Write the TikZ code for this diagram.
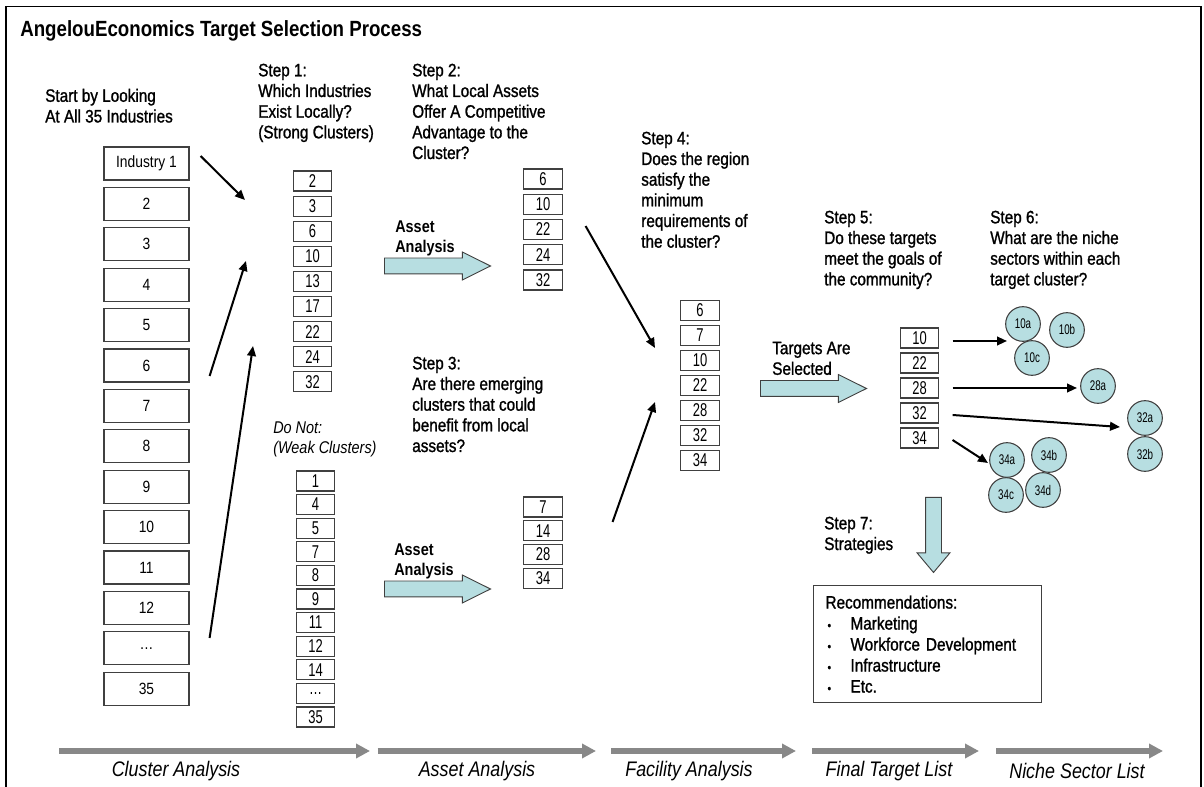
\documentclass[tikz,border=0pt]{standalone}
\usepackage{fontspec}
\setmainfont{Liberation Sans}[FakeStretch=0.85]
\newfontfamily\narrowfont{Liberation Sans}[FakeStretch=0.7]
\newfontfamily\stepfont{Liberation Sans}[FakeStretch=0.85, FakeBold=1.2]
\usepackage{xcolor}
\usepackage{tikz}
\usetikzlibrary{positioning, arrows.meta, shapes.geometric, shapes.arrows, calc}
\definecolor{aqua}{RGB}{183,222,225}
\definecolor{edgegray}{RGB}{64,64,64}
\definecolor{phasegray}{RGB}{136,136,136}
\newcommand{\recitem}[1]{\makebox[18.75pt][l]{\hspace{1.5pt}{\fontsize{9}{9}\selectfont\textbullet}}#1}

\begin{document}
\begin{tikzpicture}[
    x=0.75pt, y=-0.75pt,
    stepnote/.style={anchor=north west, inner sep=0pt, align=left, font=\stepfont\fontsize{13.5}{15.5}\selectfont},
    indbox/.style={rectangle, draw=edgegray, line width=0.9pt, minimum width=63.75pt, minimum height=24.75pt, inner sep=0pt, font=\fontsize{12.2}{14}\selectfont},
    numbox/.style={rectangle, draw=edgegray, line width=0.8pt, minimum width=29pt, minimum height=15pt, inner sep=0pt, font=\narrowfont\fontsize{13.9}{15}\selectfont},
    niche/.style={circle, draw=edgegray, line width=0.8pt, fill=aqua, minimum size=26pt, inner sep=0pt, font=\narrowfont\fontsize{10.5}{12}\selectfont},
    blockarrow/.style={single arrow, draw=edgegray, line width=0.7pt, fill=aqua, anchor=tail, inner xsep=0pt, inner ysep=5.625pt, single arrow head extend=4.5pt, single arrow tip angle=53, minimum height=79.5pt},
    arrow/.style={-{Triangle[length=7.5pt, width=6.5pt]}, line width=1.5pt},
    phase/.style={-{Triangle[length=10.5pt, width=10.5pt]}, line width=4.5pt, draw=phasegray},
    phaselabel/.style={inner sep=0pt, font=\itshape\fontsize{15.8}{18}\selectfont}
]
    \useasboundingbox (0,0) rectangle (1204,787);
    \draw[line width=1.1pt] (6,787) -- (6,6.5) -- (1201,6.5) -- (1201,787);

    \node[anchor=north west, inner sep=0pt, font=\bfseries\fontsize{16.5}{19}\selectfont] (title) at (20,20) {AngelouEconomics Target Selection Process};

    % step texts
    \node[stepnote] (start) at (45,88.5) {Start by Looking\\At All 35 Industries};
    \node[stepnote] (step1) at (258,63.5) {Step 1:\\Which Industries\\Exist Locally?\\(Strong Clusters)};
    \node[stepnote] (step2) at (412,63.5) {Step 2:\\What Local Assets\\Offer A Competitive\\Advantage to the\\Cluster?};
    \node[stepnote] (step3) at (412,356.5) {Step 3:\\Are there emerging\\clusters that could\\benefit from local\\assets?};
    \node[stepnote] (step4) at (641,131.5) {Step 4:\\Does the region\\satisfy the\\minimum\\requirements of\\the cluster?};
    \node[stepnote] (step5) at (824,210.5) {Step 5:\\Do these targets\\meet the goals of\\the community?};
    \node[stepnote] (step6) at (990,210.5) {Step 6:\\What are the niche\\sectors within each\\target cluster?};
    \node[stepnote] (step7) at (824,516.5) {Step 7:\\Strategies};
    \node[stepnote, font=\itshape\fontsize{12.75}{15}\selectfont] (weaknote) at (273,422) {Do Not:\\(Weak Clusters)};
    \node[stepnote] (selected) at (772,341.5) {Targets Are\\Selected};

    % industry columns
    \foreach \lbl [count=\i] in {Industry 1,2,3,4,5,6,7,8,9,10,11,12,…,35}
        \node[indbox] (ind\i) at (146.5,{163.5+40.4*(\i-1)}) {\lbl};
    \foreach \lbl [count=\i] in {2,3,6,10,13,17,22,24,32}
        \node[numbox] (strong\i) at (312.5,{181+25.1*(\i-1)}) {\lbl};
    \foreach \lbl [count=\i] in {1,4,5,7,8,9,11,12,14,…,35}
        \node[numbox] (weak\i) at (315.5,{481+23.6*(\i-1)}) {\lbl};
    \foreach \lbl [count=\i] in {6,10,22,24,32}
        \node[numbox] (asset\i) at (543,{179+25.25*(\i-1)}) {\lbl};
    \foreach \lbl [count=\i] in {7,14,28,34}
        \node[numbox] (emerge\i) at (543,{507+23.7*(\i-1)}) {\lbl};
    \foreach \lbl [count=\i] in {6,7,10,22,28,32,34}
        \node[numbox] (facility\i) at (700,{310.5+25*(\i-1)}) {\lbl};
    \foreach \lbl [count=\i] in {10,22,28,32,34}
        \node[numbox] (target\i) at (919.5,{338+25*(\i-1)}) {\lbl};

    % niche sectors
    \node[niche] (n10a) at (1023,324) {10a};
    \node[niche] (n10b) at (1067,330) {10b};
    \node[niche] (n10c) at (1032,358) {10c};
    \node[niche] (n28a) at (1098,386) {28a};
    \node[niche] (n32a) at (1145,418) {32a};
    \node[niche] (n32b) at (1145,454) {32b};
    \node[niche] (n34a) at (1007,460) {34a};
    \node[niche] (n34b) at (1049,455) {34b};
    \node[niche] (n34c) at (1006,495) {34c};
    \node[niche] (n34d) at (1043,490) {34d};

    % block arrows
    \node[blockarrow] (assetarrow1) at (384,266) {};
    \node[stepnote, font=\bfseries\fontsize{12.75}{15}\selectfont] (assetlabel1) at (395,221) {Asset\\Analysis};
    \node[blockarrow] (assetarrow2) at (384,589) {};
    \node[stepnote, font=\bfseries\fontsize{12.75}{15}\selectfont] (assetlabel2) at (394,544) {Asset\\Analysis};
    \node[blockarrow] (selectarrow) at (760,388.5) {};
    \node[blockarrow, shape border rotate=270, inner xsep=5.625pt, inner ysep=0pt, single arrow head extend=6.4pt, single arrow tip angle=80, minimum height=56.25pt] (strategyarrow) at (933.5,497) {};

    \node[anchor=north west, draw=edgegray, line width=0.8pt, text width=153pt, inner xsep=9pt, inner ysep=7.5pt, minimum height=87.75pt, align=left, font=\stepfont\fontsize{13.5}{15.75}\selectfont] (recs) at (813,585)
        {Recommendations:\\\recitem{Marketing}\\\recitem{Workforce Development}\\\recitem{Infrastructure}\\\recitem{Etc.}};

    % arrow tips
    \coordinate (into1) at (245,200);
    \coordinate (into2) at (246,261);
    \coordinate (into3) at (253,346);
    \coordinate (into4) at (655,348);
    \coordinate (into5) at (655,402);
    \coordinate (to10) at (1007,341);
    \coordinate (to28) at (1077,388);
    \coordinate (to32) at (1120,427);
    \coordinate (to34) at (988,463);

    \draw[arrow] ($(ind1.east)+(11,-7.5)$) -- (into1);
    \draw[arrow] ($(ind6.east)+(20,10.5)$) -- (into2);
    \draw[arrow] ($(ind13.east)+(20,-10.3)$) -- (into3);
    \draw[arrow] ($(asset3.east)+(22.7,-3.5)$) -- (into4);
    \draw[arrow] ($(emerge2.east)+(49.7,-8.7)$) -- (into5);
    \draw[arrow] ($(target1.east)+(13.2,3)$) -- (to10);
    \draw[arrow] ($(target3.east)+(13.2,0)$) -- (to28);
    \draw[arrow] ($(target4.east)+(13.2,2)$) -- (to32);
    \draw[arrow] ($(target5.east)+(13.2,2)$) -- (to34);

    % phases
    \coordinate (ph1a) at (59,751);   \coordinate (ph1b) at (370,751);
    \coordinate (ph2a) at (377.5,751); \coordinate (ph2b) at (596,751);
    \coordinate (ph3a) at (611,751);  \coordinate (ph3b) at (796,751);
    \coordinate (ph4a) at (812,751);  \coordinate (ph4b) at (979,751);
    \coordinate (ph5a) at (996,751);  \coordinate (ph5b) at (1163,751);
    \draw[phase] (ph1a) -- (ph1b);
    \draw[phase] (ph2a) -- (ph2b);
    \draw[phase] (ph3a) -- (ph3b);
    \draw[phase] (ph4a) -- (ph4b);
    \draw[phase] (ph5a) -- (ph5b);
    \node[phaselabel] (cluster) at (176,771) {Cluster Analysis};
    \node[phaselabel] (assets) at (477,771) {Asset Analysis};
    \node[phaselabel] (facility) at (689,771) {Facility Analysis};
    \node[phaselabel] (finallist) at (889,771) {Final Target List};
    \node[phaselabel] (nichelist) at (1077,771) {Niche Sector List};
\end{tikzpicture}
\end{document}
